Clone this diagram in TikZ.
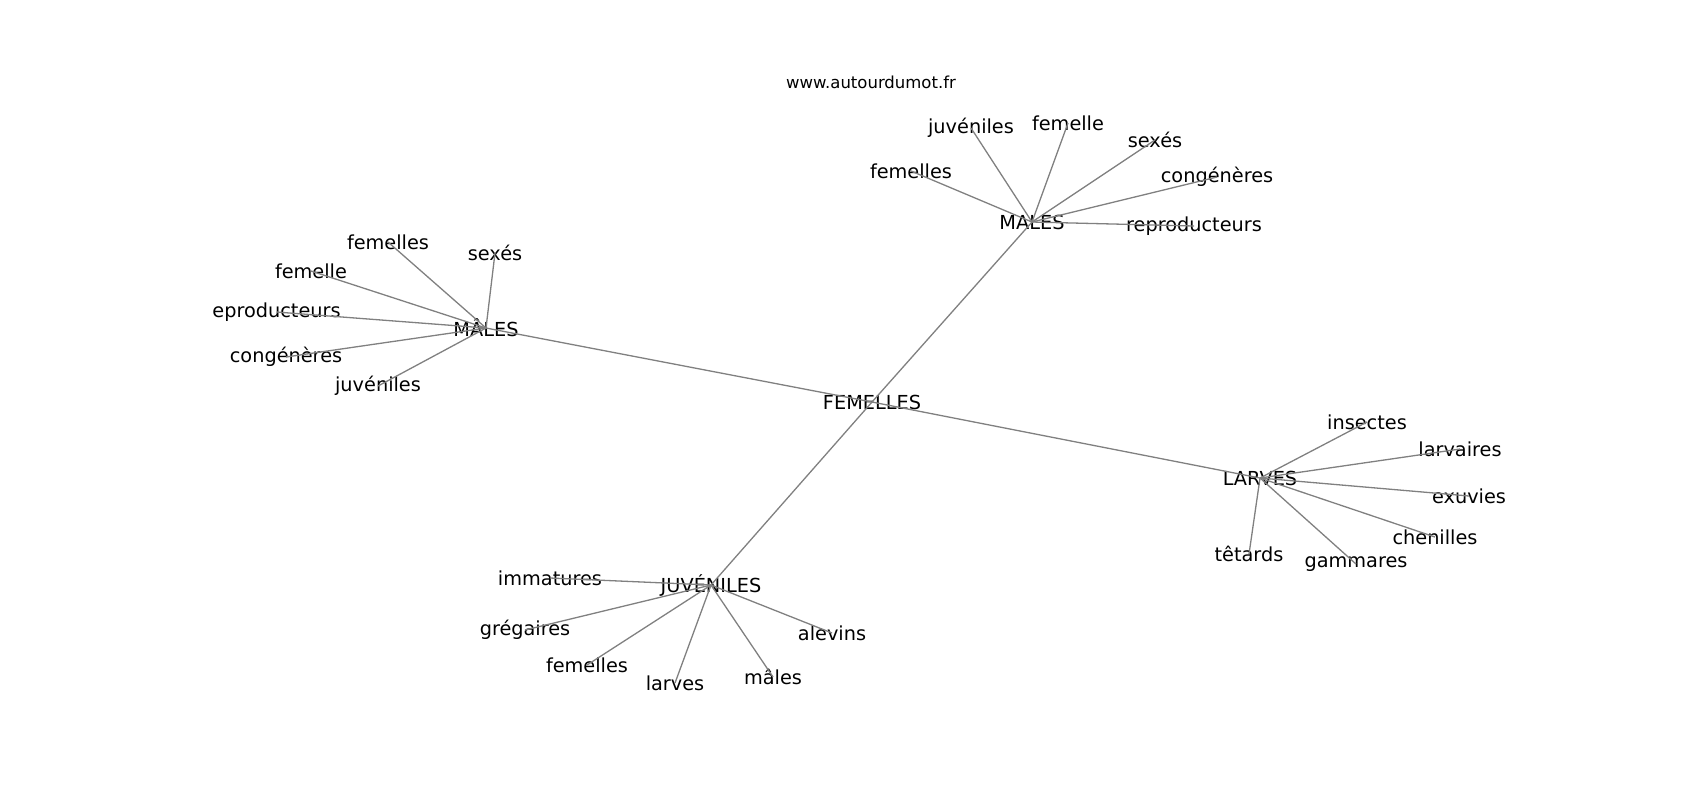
\documentclass[tikz,border=0pt]{standalone}
\usepackage{fontspec}
\setmainfont{DejaVu Sans}
\tikzset{
  word/.style={inner sep=0pt, font=\fontsize{9.65}{11}\selectfont},
  link/.style={black!50, line width=0.65pt}
}
\begin{document}
\begin{tikzpicture}[x=0.5pt,y=-0.5pt]
    \useasboundingbox (0,0) rectangle (1700,800);
    % Draw the source label
    \node[word, font=\fontsize{8.25}{10}\selectfont] (web) at (871,82) {www.autourdumot.fr};
    % Draw the hubs
    \node[word] (fem) at (872,402) {FEMELLES};
    \node[word] (ml) at (486,328) {MÂLES};
    \node[word] (mt) at (1032,222) {MALES};
    \node[word] (lv) at (1260,478) {LARVES};
    \node[word] (jv) at (711,585) {JUVÉNILES};
    % Draw the links between the hubs
    \foreach \h in {ml, mt, lv, jv}{
      \draw[link] (fem.center) -- (\h.center);
    }
    % Draw the words round MÂLES (the first letter of reproducteurs is cut off)
    \node[word, anchor=west] (ml3) at (212,312) {eproducteurs};
    \draw[link] (ml.center) -- (ml3.center);
    \foreach \n/\x/\y/\t in {ml1/388/242/femelles, ml2/495/253/sexés, ml4/311/271/femelle,
                             ml5/286/357/congénères, ml6/378/386/juvéniles}{
      \node[word] (\n) at (\x,\y) {\t};
      \draw[link] (ml.center) -- (\n.center);
    }
    % Draw the words round MALES
    \foreach \n/\x/\y/\t in {mt1/971/128/juvéniles, mt2/1068/123/femelle, mt3/1155/140/sexés,
                             mt4/911/171/femelles, mt5/1217/177/congénères, mt6/1194/226/reproducteurs}{
      \node[word] (\n) at (\x,\y) {\t};
      \draw[link] (mt.center) -- (\n.center);
    }
    % Draw the words round LARVES
    \foreach \n/\x/\y/\t in {lv1/1367/422/insectes, lv2/1460/449/larvaires, lv3/1469/496/exuvies,
                             lv4/1435/537/chenilles, lv5/1356/564/gammares, lv6/1249/554/têtards}{
      \node[word] (\n) at (\x,\y) {\t};
      \draw[link] (lv.center) -- (\n.center);
    }
    % Draw the words round JUVÉNILES
    \foreach \n/\x/\y/\t in {jv1/550/578/immatures, jv2/525/630/grégaires, jv3/587/665/femelles,
                             jv4/675/683/larves, jv5/773/677/mâles, jv6/832/633/alevins}{
      \node[word] (\n) at (\x,\y) {\t};
      \draw[link] (jv.center) -- (\n.center);
    }
\end{tikzpicture}
\end{document}
